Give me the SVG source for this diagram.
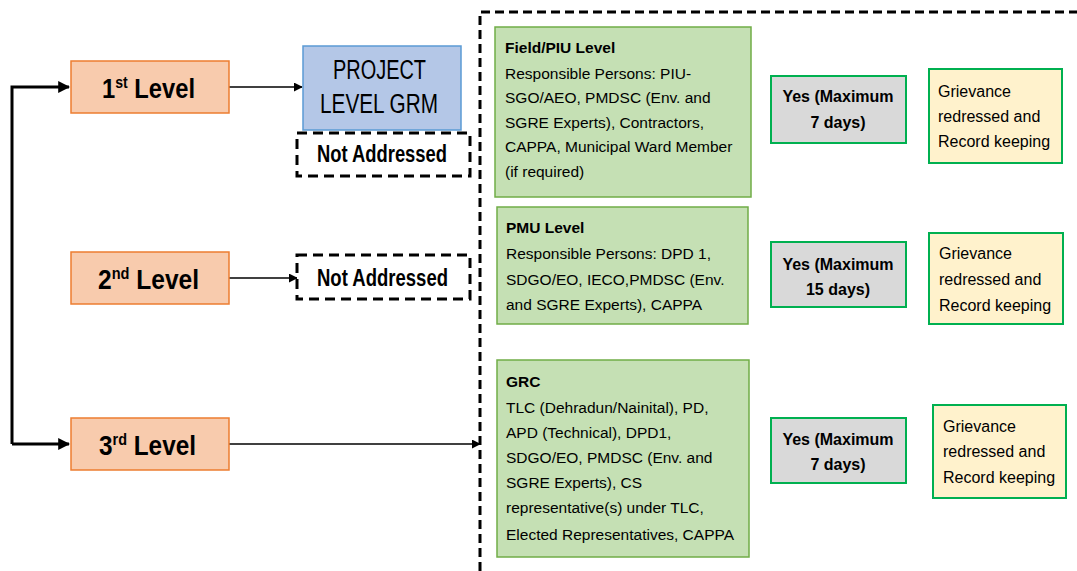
<svg xmlns="http://www.w3.org/2000/svg" width="1077" height="571" viewBox="0 0 1077 571">
<defs>
<marker id="ah" viewBox="0 0 10 10" refX="9" refY="5" markerWidth="4" markerHeight="4" orient="auto" markerUnits="strokeWidth">
<path d="M0,0 L10,5 L0,10 z" fill="#000"/>
</marker>
<marker id="ahs" viewBox="0 0 10 10" refX="9" refY="5" markerWidth="6" markerHeight="6" orient="auto" markerUnits="strokeWidth">
<path d="M0,0 L10,5 L0,10 z" fill="#000"/>
</marker>
</defs>
<style>
.lvl{fill:#F8CBAD;stroke:#ED7D31;stroke-width:1.5}
.lvlt{font-family:"Liberation Sans",Arial,sans-serif;font-weight:bold;font-size:27px;fill:#000}
.sup{font-size:16px}
.grm{fill:#B4C7E7;stroke:#5B9BD5;stroke-width:1.5}
.grmt{font-family:"Liberation Sans",Arial,sans-serif;font-size:27px;fill:#000}
.na{fill:#fff;stroke:#000;stroke-width:3;stroke-dasharray:10 6}
.nat{font-family:"Liberation Sans",Arial,sans-serif;font-weight:bold;font-size:23px;fill:#000}
.grn{fill:#C5E0B4;stroke:#70AD47;stroke-width:1.5}
.gt{font-family:"Liberation Sans",Arial,sans-serif;font-size:15.5px;fill:#000}
.gtb{font-weight:bold}
.gry{fill:#D9D9D9;stroke:#00B050;stroke-width:2}
.yt{font-family:"Liberation Sans",Arial,sans-serif;font-weight:bold;font-size:16px;fill:#000;text-anchor:middle}
.yel{fill:#FFF2CC;stroke:#00B050;stroke-width:2}
.rt{font-family:"Liberation Sans",Arial,sans-serif;font-size:16px;fill:#000}
.thick{fill:none;stroke:#000;stroke-width:3}
.thin{fill:none;stroke:#000;stroke-width:1.5}
.frame{fill:none;stroke:#000;stroke-width:3;stroke-dasharray:9 5}
</style>
<rect width="1077" height="571" fill="#fff"/>
<path class="frame" d="M480,571 V12 H1077"/>
<g id="connectors">
<path class="thick" d="M12,444 V87 H69" marker-end="url(#ah)"/>
<path class="thick" d="M12,444 H69" marker-end="url(#ah)"/>
<path class="thin" d="M229,87 H302" marker-end="url(#ahs)"/>
<path class="thin" d="M229,278 H297" marker-end="url(#ahs)"/>
<path class="thin" d="M229,444 H480" marker-end="url(#ahs)"/>
</g>
<g id="level1">
<rect class="lvl" x="71" y="61" width="158" height="52"/>
<text class="lvlt" x="102" y="98" textLength="93" lengthAdjust="spacingAndGlyphs">1<tspan class="sup" dy="-10">st</tspan><tspan dy="10"> Level</tspan></text>
</g>
<g id="level2">
<rect class="lvl" x="71" y="252" width="158" height="52"/>
<text class="lvlt" x="98" y="289" textLength="101" lengthAdjust="spacingAndGlyphs">2<tspan class="sup" dy="-10">nd</tspan><tspan dy="10"> Level</tspan></text>
</g>
<g id="level3">
<rect class="lvl" x="71" y="418" width="158" height="52"/>
<text class="lvlt" x="99" y="455" textLength="97" lengthAdjust="spacingAndGlyphs">3<tspan class="sup" dy="-10">rd</tspan><tspan dy="10"> Level</tspan></text>
</g>
<g id="grm">
<rect class="grm" x="303" y="46" width="158" height="84"/>
<text class="grmt" x="333" y="79" textLength="93" lengthAdjust="spacingAndGlyphs">PROJECT</text>
<text class="grmt" x="320" y="113" textLength="118" lengthAdjust="spacingAndGlyphs">LEVEL  GRM</text>
</g>
<g id="notaddressed1">
<rect class="na" x="297" y="133" width="173" height="43"/>
<text class="nat" x="317" y="162" textLength="130" lengthAdjust="spacingAndGlyphs">Not Addressed</text>
</g>
<g id="notaddressed2">
<rect class="na" x="297" y="255" width="173" height="44"/>
<text class="nat" x="317" y="286" textLength="131" lengthAdjust="spacingAndGlyphs">Not Addressed</text>
</g>
<g id="field">
<rect class="grn" x="495" y="27" width="256" height="170"/>
<text class="gt"><tspan class="gtb" x="505" y="53">Field/PIU Level</tspan><tspan x="505" y="79">Responsible Persons: PIU-</tspan><tspan x="505" y="103">SGO/AEO, PMDSC (Env. and</tspan><tspan x="505" y="128">SGRE Experts), Contractors,</tspan><tspan x="505" y="152">CAPPA, Municipal Ward Member</tspan><tspan x="505" y="177">(if required)</tspan></text>
</g>
<g id="pmu">
<rect class="grn" x="497" y="207" width="251" height="117"/>
<text class="gt"><tspan class="gtb" x="506" y="233">PMU Level</tspan><tspan x="506" y="259">Responsible Persons: DPD 1,</tspan><tspan x="506" y="285">SDGO/EO, IECO,PMDSC (Env.</tspan><tspan x="506" y="310">and SGRE Experts), CAPPA</tspan></text>
</g>
<g id="grc">
<rect class="grn" x="497" y="360" width="252" height="197"/>
<text class="gt"><tspan class="gtb" x="506" y="387">GRC</tspan><tspan x="506" y="413">TLC (Dehradun/Nainital), PD,</tspan><tspan x="506" y="438">APD (Technical), DPD1,</tspan><tspan x="506" y="463">SDGO/EO, PMDSC (Env. and</tspan><tspan x="506" y="488">SGRE Experts), CS</tspan><tspan x="506" y="513">representative(s) under TLC,</tspan><tspan x="506" y="540">Elected Representatives, CAPPA</tspan></text>
</g>
<g id="yes1">
<rect class="gry" x="771" y="76" width="135" height="67"/>
<text class="yt"><tspan x="838" y="102">Yes (Maximum</tspan><tspan x="838" y="128">7 days)</tspan></text>
</g>
<g id="yes2">
<rect class="gry" x="771" y="242" width="135" height="65"/>
<text class="yt"><tspan x="838" y="270">Yes (Maximum</tspan><tspan x="838" y="295">15 days)</tspan></text>
</g>
<g id="yes3">
<rect class="gry" x="771" y="418" width="135" height="65"/>
<text class="yt"><tspan x="838" y="445">Yes (Maximum</tspan><tspan x="838" y="470">7 days)</tspan></text>
</g>
<g id="redress1">
<rect class="yel" x="929" y="69" width="133" height="94"/>
<text class="rt"><tspan x="938" y="97">Grievance</tspan><tspan x="938" y="122">redressed and</tspan><tspan x="938" y="147">Record keeping</tspan></text>
</g>
<g id="redress2">
<rect class="yel" x="929" y="233" width="134" height="91"/>
<text class="rt"><tspan x="939" y="259">Grievance</tspan><tspan x="939" y="285">redressed and</tspan><tspan x="939" y="311">Record keeping</tspan></text>
</g>
<g id="redress3">
<rect class="yel" x="933" y="405" width="133" height="93"/>
<text class="rt"><tspan x="943" y="432">Grievance</tspan><tspan x="943" y="457">redressed and</tspan><tspan x="943" y="483">Record keeping</tspan></text>
</g>
</svg>
